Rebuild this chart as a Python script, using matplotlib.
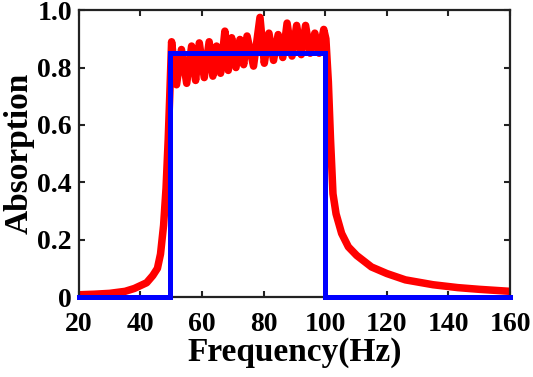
import matplotlib

matplotlib.use("Agg")

import matplotlib.pyplot as plt

# red curve: simulated absorption (peaks / troughs in the band)
freq_sim = [
    20, 25, 30, 35, 38, 40, 42, 44, 45.5, 46.5, 47.5, 48.3, 49.0, 49.5,
    50.1, 51.7, 53.3, 55.0, 56.6, 57.9, 59.1, 60.7, 62.3, 63.5, 64.7, 66.0,
    67.4, 68.5, 69.6, 71.0, 72.3, 73.5, 74.6, 76.7, 78.8, 80.2, 81.7, 83.2,
    84.7, 86.2, 87.6, 89.2, 90.7, 92.2, 93.6, 95.1, 96.6, 98.0, 99.5,
    100.2, 101.0, 101.7, 102.5, 103.5, 105.3, 107.5, 110.2, 115, 120, 126,
    135, 143, 150, 160,
]
absorp_sim = [
    0.008, 0.010, 0.013, 0.020, 0.030, 0.040, 0.050, 0.075, 0.10, 0.15, 0.25, 0.38, 0.55, 0.70,
    0.89, 0.74, 0.863, 0.745, 0.875, 0.755, 0.886, 0.765, 0.89, 0.77, 0.875, 0.78,
    0.927, 0.79, 0.904, 0.80, 0.898, 0.81, 0.91, 0.805, 0.975, 0.815, 0.92, 0.825,
    0.915, 0.835, 0.955, 0.84, 0.947, 0.845, 0.947, 0.85, 0.92, 0.85, 0.933,
    0.90, 0.75, 0.55, 0.36, 0.29, 0.222, 0.175, 0.145, 0.105, 0.082, 0.060,
    0.043, 0.033, 0.027, 0.020,
]

# blue curve: target (ideal) band absorption
freq_target = [20, 49.5, 49.5, 100, 100, 160]
absorp_target = [0, 0, 0.85, 0.85, 0, 0]

x_ticks = [20, 40, 60, 80, 100, 120, 140, 160]
y_ticks = [0, 0.2, 0.4, 0.6, 0.8, 1.0]
y_tick_labels = ["0", "0.2", "0.4", "0.6", "0.8", "1.0"]

plt.rcParams["font.family"] = ["Liberation Serif", "DejaVu Serif"]
plt.rcParams["font.weight"] = "bold"

fig = plt.figure(figsize=(5.33, 3.77), dpi=100)
ax = fig.add_axes([0.148, 0.212, 0.809, 0.761])

ax.plot(freq_sim, absorp_sim, color="#ff0000", linewidth=5.4, solid_joinstyle="round",
        solid_capstyle="round", zorder=2)
ax.plot(freq_target, absorp_target, color="#0000ff", linewidth=3.6, solid_joinstyle="miter",
        clip_on=False, zorder=3)

ax.set_xlim(20, 160)
ax.set_ylim(0, 1.0)
ax.set_xticks(x_ticks)
ax.set_yticks(y_ticks)
ax.set_yticklabels(y_tick_labels)
ax.tick_params(direction="in", length=4, width=1.5, top=True, right=True,
               labelsize=20, color="#222222")
ax.tick_params(axis="x", pad=11)
ax.tick_params(axis="y", pad=5)
for label in ax.get_xticklabels() + ax.get_yticklabels():
    label.set_fontweight("bold")
for spine in ax.spines.values():
    spine.set_linewidth(1.6)
    spine.set_color("#222222")

ax.set_xlabel("Frequency(Hz)", fontsize=24, fontweight="bold", labelpad=0)
ax.set_ylabel("Absorption", fontsize=24, fontweight="bold", labelpad=2)

fig.savefig("out.png", dpi=100, facecolor="white")
